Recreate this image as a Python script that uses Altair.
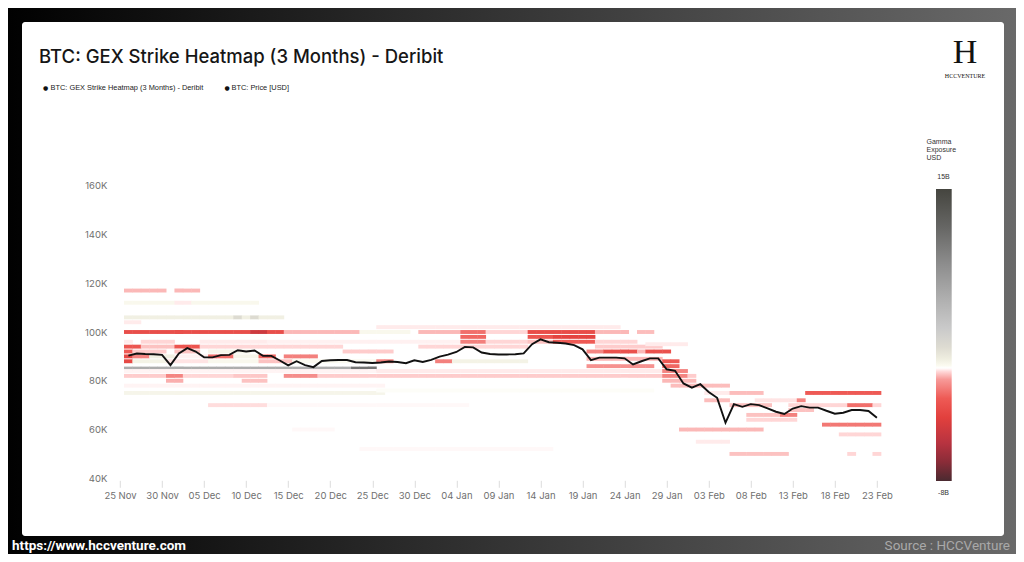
import altair as alt
import pandas as pd

# ---------------- data ----------------
first_day = "2025-11-26"

price_usd = [90300, 91200, 91000, 90900, 90600, 86400, 91200, 93400, 92000, 89600,
             89600, 90500, 90600, 92500, 92000, 92400, 90200, 90200, 88300, 86300,
             88000, 86400, 85600, 88100, 88400, 88500, 88500, 87600, 87500, 87300,
             87500, 87900, 87700, 87200, 88400, 87700, 88600, 89900, 90700, 91800,
             93900, 93700, 91600, 91000, 90800, 90800, 90900, 91200, 95000, 97000,
             95800, 95600, 95300, 94600, 92900, 88500, 89500, 89500, 89500, 89200,
             86700, 88000, 89200, 89200, 84700, 84100, 78900, 77200, 78600, 75400,
             73000, 62800, 70400, 69300, 70400, 70000, 68700, 67300, 66400, 68600,
             69600, 69000, 69000, 67700, 66500, 66900, 68000, 68000, 67600, 64800]

tick_dates = ["2025-11-25", "2025-11-30", "2025-12-05", "2025-12-10", "2025-12-15",
              "2025-12-20", "2025-12-25", "2025-12-30", "2026-01-04", "2026-01-09",
              "2026-01-14", "2026-01-19", "2026-01-24", "2026-01-29", "2026-02-03",
              "2026-02-08", "2026-02-13", "2026-02-18", "2026-02-23"]
y_ticks = [40000, 60000, 80000, 100000, 120000, 140000, 160000]

# GEX blocks: (strike in K USD, first day index, last day index, gamma exposure in B USD)
dec_cells = [
    (117, 0, 4, 0.3), (117, 6, 8, 0.3),
    (112, 0, 15, 1.2), (112, 6, 7, 0.75),
    (106, 0, 18, 1.5), (106, 13, 13, 2.6), (106, 15, 15, 2.6),
    (104, 0, 1, 0.75),
    (100, 0, 18, -2.2), (100, 15, 16, -4.0), (100, 19, 27, 0.3), (100, 28, 33, 1.2),
    (96, 0, 0, 0.75), (96, 2, 5, 0.6), (96, 9, 16, 0.75), (96, 17, 40, 0.8),
    (94, 0, 1, -1.8), (94, 2, 5, 0.4), (94, 6, 8, -1.8), (94, 9, 15, 0.6),
    (94, 16, 25, 0.6),
    (92, 0, 0, -1.5), (92, 1, 4, 0.5), (92, 6, 8, 0.4), (92, 10, 14, 1.3), (92, 26, 31, 0.5),
    (90, 0, 0, -2.5), (90, 1, 2, -0.5), (90, 3, 5, 1.5), (90, 6, 9, 0.8),
    (90, 10, 12, -1.0), (90, 13, 15, 1.3), (90, 16, 17, -1.2), (90, 19, 22, -0.6),
    (88, 0, 0, -2.5), (88, 1, 4, 1.4), (88, 5, 9, 0.7), (88, 10, 15, 1.2),
    (88, 16, 19, 0.4), (88, 20, 29, 1.1),
    (85, 0, 29, 6.5), (85, 27, 29, 11.0),
    (84, 0, 29, 0.82),
    (82, 0, 4, 0.5), (82, 5, 6, -0.5), (82, 7, 12, 0.6), (82, 13, 16, 0.45),
    (82, 19, 22, -0.3), (82, 23, 67, 0.5),
    (80, 5, 6, 0.2), (80, 14, 16, 0.4),
    (78, 0, 30, 0.82),
    (75, 0, 30, 1.3),
    (70, 10, 16, 0.65), (70, 17, 40, 0.85),
    (60, 20, 24, 0.85),
]
jan_cells = [
    (102, 30, 58, 0.75),
    (100, 35, 39, 0.3), (100, 40, 42, -1.0), (100, 43, 47, 0.6), (100, 48, 55, -2.3),
    (100, 56, 59, 0.3), (100, 61, 62, 0.35),
    (98, 40, 42, -1.2), (98, 48, 50, -1.8), (98, 51, 55, -2.8),
    (96, 40, 42, -0.6), (96, 43, 47, 0.6), (96, 48, 50, 0.4), (96, 51, 55, -1.5),
    (96, 56, 60, 0.6),
    (94, 35, 47, 0.6), (94, 56, 63, 0.5),
    (92, 55, 56, -0.5), (92, 57, 60, -2.0), (92, 61, 61, 0.3), (92, 62, 64, -2.0),
    (88, 30, 31, -0.6), (88, 37, 38, -0.6), (88, 39, 47, 1.4),
    (89, 55, 63, 0.3), (86, 55, 62, -0.2),
    (84, 30, 63, 0.75),
    (76, 30, 62, 1.0),
    (52, 28, 50, 0.85),
]
feb_cells = [
    (95, 62, 66, 0.75),
    (88, 64, 65, -1.5), (86, 64, 65, -1.2), (84, 64, 66, -0.5), (82, 64, 66, -0.5),
    (80, 64, 67, 0.3), (78, 65, 71, 0.35),
    (75, 69, 71, 0.75), (75, 72, 75, 0.35), (75, 81, 89, -1.5),
    (72, 69, 71, 0.35), (72, 75, 80, 0.7), (72, 80, 80, -0.5),
    (70, 72, 76, 0.4), (70, 79, 89, 0.6), (70, 86, 88, -1.0),
    (68, 79, 81, 0.4),
    (66, 74, 79, 0.4), (66, 78, 79, -0.6),
    (64, 74, 79, 0.6),
    (62, 83, 89, -0.8),
    (60, 66, 75, 0.3),
    (58, 85, 89, 0.6),
    (55, 68, 71, 0.75),
    (50, 72, 78, 0.4), (50, 86, 86, 0.6), (50, 89, 89, 0.6),
]

# colour scale of the "Gamma Exposure USD" bar (B USD -> colour)
gex_stops = [-8, -6.5, -5, -3, -1.5, 0, 0.6, 0.9, 1.1, 1.6, 2.5, 4, 6, 9, 12, 15]
gex_colors = ["#4a2a30", "#8a2c38", "#b83340", "#e2403d", "#ee5a55", "#f79a98",
              "#ffd6d6", "#ffffff", "#fbfaf0", "#efeee0", "#dedcd2", "#cacaca",
              "#b3b3b3", "#8e8e8e", "#666664", "#45453f"]
gex_min, gex_max = -8, 15

# ---------------- tables ----------------
days = pd.date_range(first_day, periods=len(price_usd), freq="D")
iso = lambda t: t.strftime("%Y-%m-%dT%H:%M:%SZ")

price_df = pd.DataFrame({"date": [iso(t) for t in days], "price": price_usd})

grid = {}
for k, d0, d1, g in dec_cells + jan_cells + feb_cells:
    for d in range(d0, d1 + 1):
        grid[(k, d)] = g
half = pd.Timedelta(hours=12, minutes=40)
heat_df = pd.DataFrame([
    {"x0": iso(days[d] - half), "x1": iso(days[d] + half),
     "lo": k * 1000 - 800, "hi": k * 1000 + 800, "gex": g}
    for (k, d), g in grid.items()
])

def dt(s, h=0):
    y, m, d = map(int, s.split("-"))
    return alt.DateTime(year=y, month=m, date=d, hours=h, utc=True)

# ---------------- layout ----------------
W, H = 765.3, 292.6
PL, PT = 115.8, 185.7          # plot origin on the page
rx = lambda x: x - PL
ry = lambda y: y - PT
FONT = "Inter"

x_scale = alt.Scale(type="utc", domain=[dt("2025-11-24", 12), dt("2026-02-23", 12)])
x_axis = alt.Axis(values=[dt(s) for s in tick_dates], format="%d %b", title=None,
                  grid=False, domain=False, tickColor="#dcdcdc", tickSize=7, offset=2,
                  labelPadding=3, labelColor="#707070", labelFontSize=9.5, labelFont=FONT,
                  labelOverlap=False, zindex=2)
y_scale = alt.Scale(domain=[40000, 160000], nice=False, zero=False)

color_scale = alt.Scale(domain=gex_stops, range=gex_colors, interpolate="rgb")

bg = alt.Chart(alt.Data(values=[{"a": 1}])).mark_rect(
    color=alt.LinearGradient(gradient="linear", x1=0, x2=1, y1=0, y2=0,
                             stops=[alt.GradientStop(offset=0, color="#000000"),
                                    alt.GradientStop(offset=1, color="#6a6a6a")])
).encode(x=alt.value(rx(0)), x2=alt.value(rx(1024)), y=alt.value(ry(0)), y2=alt.value(ry(562)))

card = alt.Chart(alt.Data(values=[{"a": 1}])).mark_rect(color="white", cornerRadius=3).encode(
    x=alt.value(rx(22)), x2=alt.value(rx(1004)), y=alt.value(ry(22)), y2=alt.value(ry(536)))

heat = alt.Chart(heat_df).mark_rect().encode(
    x=alt.X("x0:T", scale=x_scale, axis=x_axis),
    x2="x1:T",
    y=alt.Y("lo:Q", scale=y_scale, title=None,
            axis=alt.Axis(values=y_ticks, labelExpr="format(datum.value/1000,'d') + 'K'",
                          grid=False, domain=False, ticks=False, labelPadding=9,
                          labelColor="#707070", labelFontSize=9.5, labelFont=FONT, zindex=2)),
    y2="hi:Q",
    color=alt.Color("gex:Q", scale=color_scale, legend=None),
)

line = alt.Chart(price_df).mark_line(color="#111111", strokeWidth=1.9).encode(
    x=alt.X("date:T", scale=x_scale, axis=x_axis),
    y=alt.Y("price:Q", scale=y_scale, axis=None),
)

# colour bar (legend)
span = gex_max - gex_min
cbar = alt.Chart(pd.DataFrame({"hi": [gex_max], "lo": [gex_min]})).mark_rect(
    color=alt.LinearGradient(
        gradient="linear", x1=0, x2=0, y1=0, y2=1,
        stops=[alt.GradientStop(offset=(gex_max - v) / span, color=c)
               for v, c in zip(reversed(gex_stops), reversed(gex_colors))])
).encode(
    x=alt.value(rx(936)), x2=alt.value(rx(951.7)),
    y=alt.Y("hi:Q", scale=alt.Scale(domain=[-7.79, 15.26], nice=False, zero=False), axis=None),
    y2="lo:Q",
)

def label(text, x, y, size, color="#222222", weight="normal", align="left", font=FONT):
    return alt.Chart(alt.Data(values=[{"t": text}])).mark_text(
        align=align, baseline="middle", fontSize=size, font=font, fontWeight=weight,
        color=color).encode(x=alt.value(rx(x)), y=alt.value(ry(y)), text="t:N")

texts = [
    label("BTC: GEX Strike Heatmap (3 Months) - Deribit", 39, 57, 18.5, "#161616", 500),
    label("●", 43, 88, 6, "#111111", font="DejaVu Sans"),
    label("BTC: GEX Strike Heatmap (3 Months) - Deribit", 50.5, 88, 7.4, "#222222",
          font="Liberation Sans"),
    label("●", 224.5, 88, 6, "#111111", font="DejaVu Sans"),
    label("BTC: Price [USD]", 231.5, 88, 7.4, "#222222", font="Liberation Sans"),
    label("Gamma", 926.5, 142, 7, "#333333", font="Liberation Sans"),
    label("Exposure", 926.5, 150, 7, "#333333", font="Liberation Sans"),
    label("USD", 926.5, 158, 7, "#333333", font="Liberation Sans"),
    label("15B", 943.5, 177, 7, "#333333", align="center", font="Liberation Sans"),
    label("-8B", 943.5, 492.5, 7, "#333333", align="center", font="Liberation Sans"),
    label("H", 965, 53, 34, "#111111", align="center", font="Liberation Serif"),
    label("HCCVENTURE", 965, 76, 6, "#111111", align="center", font="Liberation Serif"),
    label("https://www.hccventure.com", 12, 545.5, 13.5, "#ffffff", "bold", font="Roboto"),
    label("Source : HCCVenture", 1010, 545.5, 13.5, "#a9a9a9", align="right", font="Roboto"),
]

chart = alt.layer(bg, card, heat, line, cbar, *texts).resolve_scale(
    y="independent"
).properties(
    width=W, height=H,
    autosize=alt.AutoSizeParams(type="none"),
    padding={"left": PL - 8, "top": PT - 8, "right": 1008 - (PL - 8) - W,
             "bottom": 546 - (PT - 8) - H},
    background="#111111",
).configure_view(strokeWidth=0)

chart.save("out.html", embed_options={"renderer": "svg", "actions": False})
